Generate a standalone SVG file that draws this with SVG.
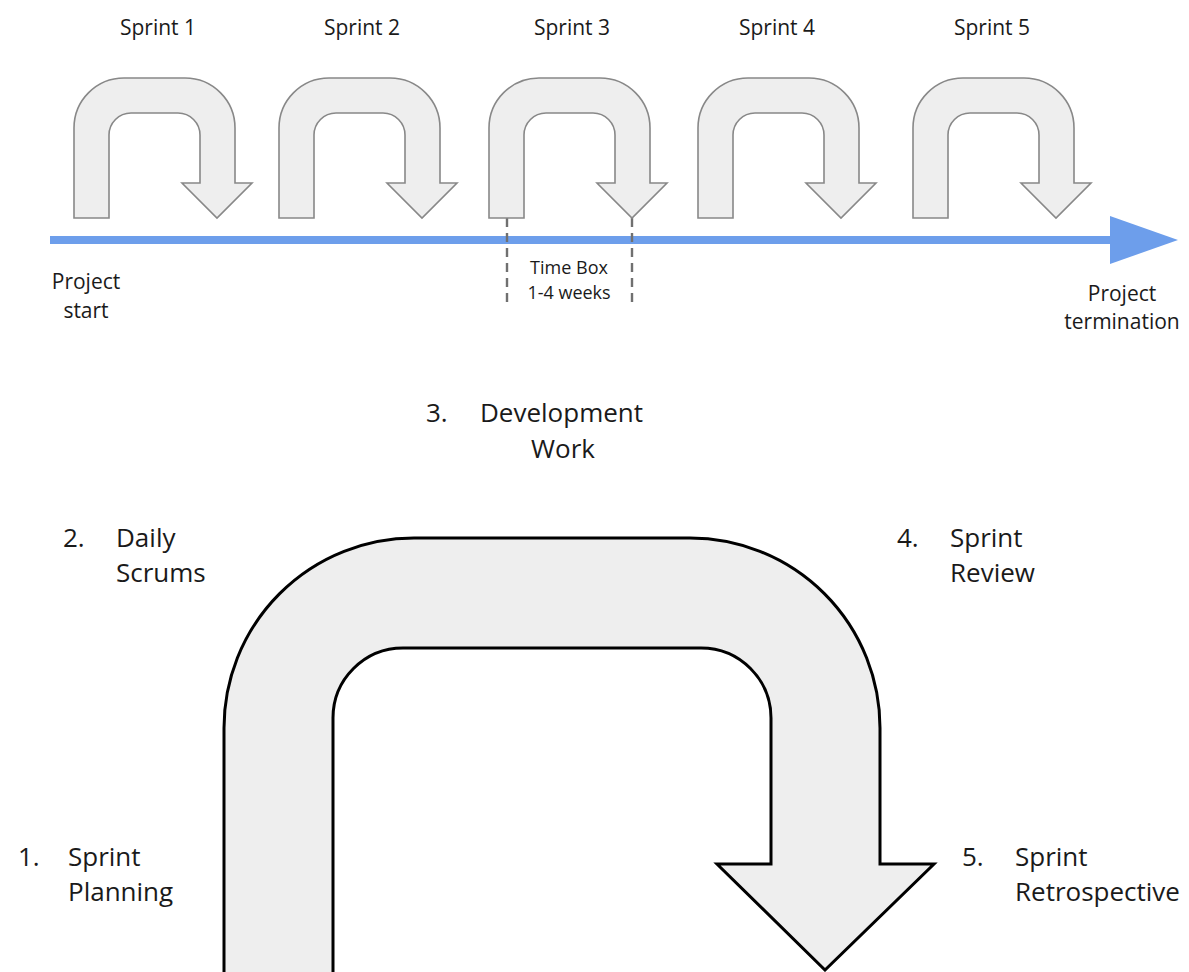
<svg xmlns="http://www.w3.org/2000/svg" xmlns:xlink="http://www.w3.org/1999/xlink" width="1189" height="972" viewBox="0 0 1189 972">
  <style>
    .bg { fill: #ffffff; }
    .lbl { font-family: "Open Sans", "Liberation Sans", sans-serif; fill: #1a1a1a; }
    .sm { font-size: 21px; }
    .tb { font-size: 18px; }
    .lg { font-size: 26px; }
    .sprint-arrow { fill: #eeeeee; stroke: #888888; stroke-width: 1.6; stroke-linejoin: miter; }
    .cycle-arrow { fill: #eeeeee; stroke: #000000; stroke-width: 3; stroke-linejoin: miter; }
    .timeline { stroke: #6d9eeb; stroke-width: 8; fill: none; }
    .timeline-head { fill: #6d9eeb; }
    .timebox { stroke: #707070; stroke-width: 2.4; stroke-dasharray: 9 6; fill: none; }
  </style>
  <defs>
    <!-- U-turn arrow used for each sprint, origin at outer left edge -->
    <path id="uturn" d="M0,218 V128 A50,50 0 0 1 50,78 H111 A50,50 0 0 1 161,128 V183 H178 L143,218 L108,183 H126 V135 A22,22 0 0 0 104,113 H57 A22,22 0 0 0 35,135 V218 Z"/>
  </defs>
  <rect class="bg" x="0" y="0" width="1189" height="972"/>

  <!-- timeline -->
  <g id="connectors">
    <line class="timeline" x1="50" y1="240" x2="1112" y2="240"/>
    <polygon class="timeline-head" points="1110,216 1178,240 1110,264"/>
    <line class="timebox" x1="507" y1="218" x2="507" y2="302"/>
    <line class="timebox" x1="632" y1="218" x2="632" y2="302"/>
  </g>

  <g id="sprint1">
    <use xlink:href="#uturn" class="sprint-arrow" x="74"/>
    <text class="lbl sm" x="158" y="35" text-anchor="middle">Sprint 1</text>
  </g>
  <g id="sprint2">
    <use xlink:href="#uturn" class="sprint-arrow" x="279"/>
    <text class="lbl sm" x="362" y="35" text-anchor="middle">Sprint 2</text>
  </g>
  <g id="sprint3">
    <use xlink:href="#uturn" class="sprint-arrow" x="489"/>
    <text class="lbl sm" x="572" y="35" text-anchor="middle">Sprint 3</text>
  </g>
  <g id="sprint4">
    <use xlink:href="#uturn" class="sprint-arrow" x="698"/>
    <text class="lbl sm" x="777" y="35" text-anchor="middle">Sprint 4</text>
  </g>
  <g id="sprint5">
    <use xlink:href="#uturn" class="sprint-arrow" x="913"/>
    <text class="lbl sm" x="992" y="35" text-anchor="middle">Sprint 5</text>
  </g>

  <g id="project-start">
    <text class="lbl sm" x="86" y="289" text-anchor="middle">Project</text>
    <text class="lbl sm" x="86" y="318" text-anchor="middle">start</text>
  </g>
  <g id="timebox-label">
    <text class="lbl tb" x="569" y="274" text-anchor="middle">Time Box</text>
    <text class="lbl tb" x="569" y="299" text-anchor="middle">1-4 weeks</text>
  </g>
  <g id="project-end">
    <text class="lbl sm" x="1122" y="301" text-anchor="middle">Project</text>
    <text class="lbl sm" x="1122" y="329" text-anchor="middle">termination</text>
  </g>

  <!-- enlarged single sprint -->
  <g id="sprint-cycle">
    <path class="cycle-arrow" d="M224,985 V728 A190,190 0 0 1 414,538 H690 A190,190 0 0 1 880,728 V864 H934 L825,970 L717,864 H771 V718 A70,70 0 0 0 701,648 H403 A70,70 0 0 0 333,718 V985 Z"/>
  </g>

  <g id="step1">
    <text class="lbl lg" x="18" y="866">1.</text>
    <text class="lbl lg" x="68" y="866">Sprint</text>
    <text class="lbl lg" x="68" y="901">Planning</text>
  </g>
  <g id="step2">
    <text class="lbl lg" x="63" y="547">2.</text>
    <text class="lbl lg" x="116" y="547">Daily</text>
    <text class="lbl lg" x="116" y="582">Scrums</text>
  </g>
  <g id="step3">
    <text class="lbl lg" x="426" y="422">3.</text>
    <text class="lbl lg" x="480" y="422">Development</text>
    <text class="lbl lg" x="563" y="458" text-anchor="middle">Work</text>
  </g>
  <g id="step4">
    <text class="lbl lg" x="897" y="547">4.</text>
    <text class="lbl lg" x="950" y="547">Sprint</text>
    <text class="lbl lg" x="950" y="582">Review</text>
  </g>
  <g id="step5">
    <text class="lbl lg" x="962" y="866">5.</text>
    <text class="lbl lg" x="1015" y="866">Sprint</text>
    <text class="lbl lg" x="1015" y="901">Retrospective</text>
  </g>
</svg>
